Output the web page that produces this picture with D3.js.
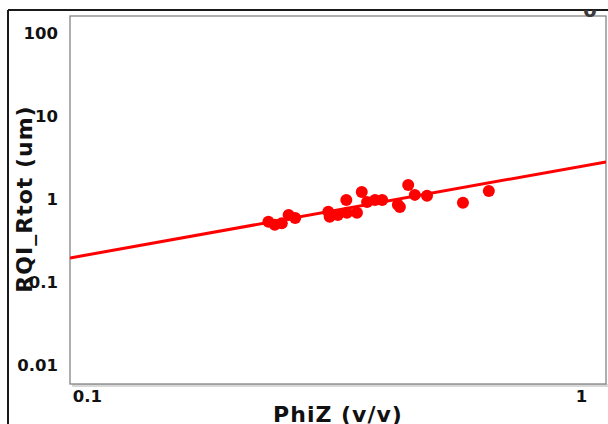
<!DOCTYPE html>
<html>
<head>
<meta charset="utf-8">
<script src="https://cdn.jsdelivr.net/npm/d3@7"></script>
<style>
  html, body { margin: 0; padding: 0; background: #fff; }
  svg { display: block; }
</style>
</head>
<body>
<svg id="chart" width="608" height="424"></svg>
<script>
// PhiZ vs RQI_Rtot samples
const phiZ = [0.233, 0.240, 0.248, 0.256, 0.264, 0.308, 0.310, 0.322, 0.335, 0.336, 0.352,
              0.360, 0.369, 0.383, 0.396, 0.426, 0.430, 0.447, 0.461, 0.488, 0.577, 0.651];
const rqi  = [0.53, 0.49, 0.51, 0.64, 0.59, 0.70, 0.61, 0.64, 0.97, 0.68, 0.68,
              1.21, 0.92, 0.97, 0.97, 0.85, 0.80, 1.47, 1.12, 1.09, 0.90, 1.25];

// power-law trend: RQI = coef * PhiZ^exponent
const trendCoef = 2.47;
const trendExp = 1.067;

const xTicks = [0.1, 1];
const yTicks = [0.01, 0.1, 1, 10, 100];
const xTitle = "PhiZ (v/v)";
const yTitle = "RQI_Rtot (um)";

const svg = d3.select("#chart");
const plot = { left: 70, top: 16, right: 606, bottom: 384 };

const x = d3.scaleLog().domain([0.0924, 1.124]).range([plot.left, plot.right]);
const y = d3.scaleLog().domain([0.0059, 160]).range([plot.bottom, plot.top]);

const font = "Verdana, 'DejaVu Sans', sans-serif";

// clip regions
const defs = svg.append("defs");
defs.append("clipPath").attr("id", "plotClip")
  .append("rect").attr("x", plot.left).attr("y", plot.top)
  .attr("width", plot.right - plot.left).attr("height", plot.bottom - plot.top);
defs.append("clipPath").attr("id", "frameClip")
  .append("rect").attr("x", 0).attr("y", 10).attr("width", 608).attr("height", 414);

// outer frame lines
svg.append("line").attr("x1", 8).attr("x2", 608).attr("y1", 10).attr("y2", 10)
  .attr("stroke", "#1a1a1a").attr("stroke-width", 2);
svg.append("line").attr("x1", 8).attr("x2", 8).attr("y1", 10).attr("y2", 424)
  .attr("stroke", "#1a1a1a").attr("stroke-width", 2);

// plot panel with shadow at bottom
svg.append("rect").attr("x", plot.left + 2).attr("y", plot.bottom)
  .attr("width", plot.right - plot.left).attr("height", 3).attr("fill", "#d8d8d8");
svg.append("rect").attr("x", plot.left).attr("y", plot.top)
  .attr("width", plot.right - plot.left).attr("height", plot.bottom - plot.top)
  .attr("fill", "#fff").attr("stroke", "#7a7a7a").attr("stroke-width", 1.2);

// partially hidden corner label
svg.append("g").attr("clip-path", "url(#frameClip)")
  .append("text").attr("x", 590).attr("y", 17).attr("text-anchor", "middle")
  .attr("font-family", font).attr("font-weight", "bold").attr("font-size", 20)
  .attr("fill", "#3a3a3a").text("0");

// y axis tick labels
const yAxis = d3.axisLeft(y).tickValues(yTicks).tickSize(0).tickPadding(0)
  .tickFormat(d => d3.format("~g")(d));
const yg = svg.append("g").attr("transform", "translate(58,0)").call(yAxis);
yg.select(".domain").remove();
yg.selectAll("text").attr("font-family", font).attr("font-weight", "bold")
  .attr("font-size", 16.5).attr("fill", "#111");

// x axis tick labels
const xAxis = d3.axisBottom(x).tickValues(xTicks).tickSize(0).tickPadding(0)
  .tickFormat(d => d3.format("~g")(d));
const xg = svg.append("g").attr("transform", "translate(0,390)").call(xAxis);
xg.select(".domain").remove();
xg.selectAll("text").attr("font-family", font).attr("font-weight", "bold")
  .attr("font-size", 16.5).attr("fill", "#111");

// axis titles
svg.append("text").attr("x", 338).attr("y", 422).attr("text-anchor", "middle")
  .attr("font-family", font).attr("font-weight", "bold").attr("font-size", 22)
  .attr("letter-spacing", 1).attr("fill", "#111").text(xTitle);
svg.append("text").attr("transform", "translate(32,199) rotate(-90)")
  .attr("text-anchor", "middle")
  .attr("font-family", font).attr("font-weight", "bold").attr("font-size", 22)
  .attr("letter-spacing", 1).attr("fill", "#111").text(yTitle);

// trend line and points
const g = svg.append("g").attr("clip-path", "url(#plotClip)");
const lineX = x.domain();
const trend = lineX.map(v => [v, trendCoef * Math.pow(v, trendExp)]);
g.append("path")
  .attr("d", d3.line().x(d => x(d[0])).y(d => y(d[1]))(trend))
  .attr("fill", "none").attr("stroke", "#ff0000").attr("stroke-width", 3);

g.selectAll("circle").data(phiZ.map((v, i) => [v, rqi[i]])).enter()
  .append("circle")
  .attr("cx", d => x(d[0])).attr("cy", d => y(d[1])).attr("r", 6)
  .attr("fill", "#ff0000");
</script>
</body>
</html>
